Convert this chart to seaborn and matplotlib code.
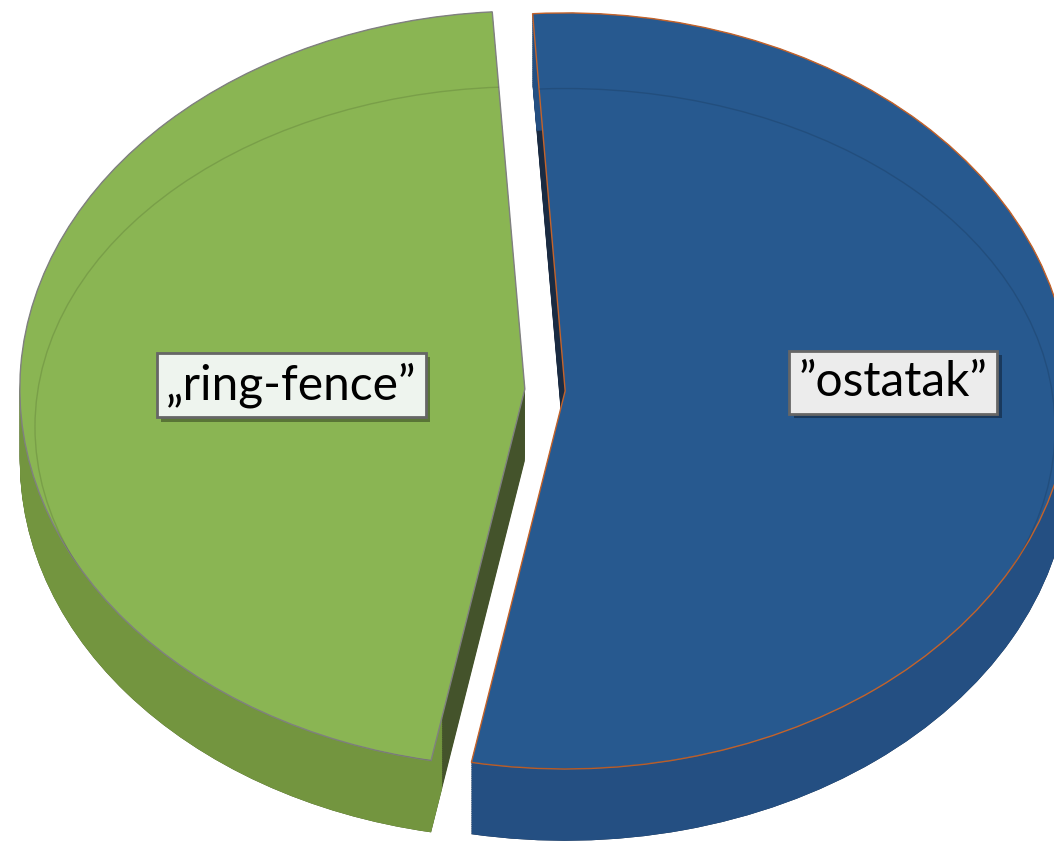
import numpy as np
import matplotlib
matplotlib.use("Agg")
import matplotlib.pyplot as plt
import matplotlib.patheffects as pe
from matplotlib.patches import Ellipse
import seaborn as sns

# data
labels = ["„ring-fence”", "”ostatak”"]
shares = [46, 54]
top_colors = ["#8ab553", "#27598f"]
rim_colors = ["#73953f", "#244f82"]
cut_colors = ["#44532b", "#1a2b42"]
edge_colors = ["#808080", "#c5632a"]
box_faces = ["#eef4ee", "#ececec"]
label_pos = [(-0.502, 0.013), (0.69, 0.02)]

sns.set_theme(style="white")
plt.rcParams['font.family'] = ['Lato', 'DejaVu Sans']

fig = plt.figure(figsize=(10.54, 8.42), dpi=100)
ax = fig.add_axes([0, 0, 1, 1])

start = 93.7
explode = [0.04, 0.04]
depth = 0.19

# side walls: radial cut faces first, then the outer rim on top
for d in np.linspace(depth, 0, 40):
    ax.pie(shares, colors=cut_colors, startangle=start, explode=explode,
           center=(0, -d), wedgeprops=dict(linewidth=0))
for d in np.linspace(depth, 0, 40):
    ax.pie(shares, colors=rim_colors, startangle=start, explode=explode,
           center=(0, -d), wedgeprops=dict(linewidth=0, width=0.12))

# top face
wedges, _ = ax.pie(shares, colors=top_colors, startangle=start, explode=explode,
                   wedgeprops=dict(linewidth=1.0))
for w, ec in zip(wedges, edge_colors):
    w.set_edgecolor(ec)
    cx, cy = w.center
    rim = Ellipse((cx, cy - 0.1), 2 * 0.97, 2 * 0.9, fill=False,
                  edgecolor="black", alpha=0.12, linewidth=1)
    ax.add_patch(rim)
    rim.set_clip_path(w)

for lab, (x, y), fc in zip(labels, label_pos, box_faces):
    t = ax.text(x, y, lab, ha="center", va="center", fontsize=34.5, color="black",
                bbox=dict(boxstyle="square,pad=0.2", facecolor=fc,
                          edgecolor="#666666", linewidth=2))
    t.get_bbox_patch().set_path_effects([
        pe.SimplePatchShadow(offset=(3, -3), shadow_rgbFace="black", alpha=0.35),
        pe.Normal()])

ax.set_aspect("auto")
ax.set_xlim(-545 / 505, (1054 - 545) / 505)
ax.set_ylim(-452 / 378, 390 / 378)
ax.axis("off")

fig.savefig("out.png", dpi=100, facecolor="white")
